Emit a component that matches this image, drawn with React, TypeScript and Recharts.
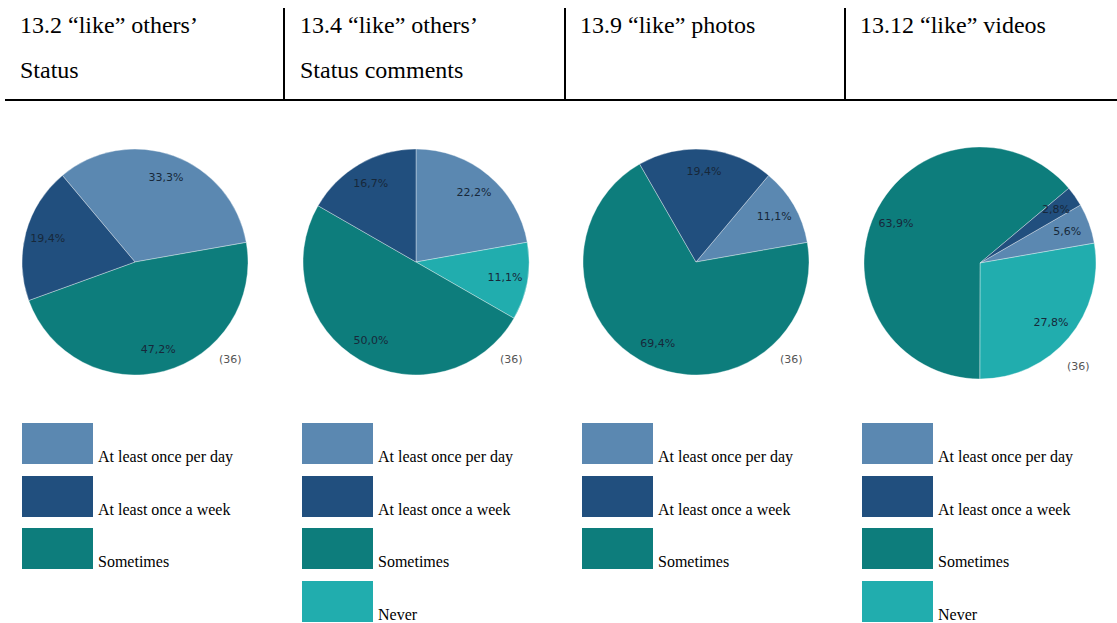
import { PieChart, Pie, Cell } from 'recharts'

// categories in legend order
const CATEGORIES = ['At least once per day', 'At least once a week', 'Sometimes', 'Never']
const COLORS = ['#5b88b1', '#214f7e', '#0d7d7c', '#21adae']

const TITLES = [
  ['13.2 \u201clike\u201d others\u2019', 'Status'],
  ['13.4 \u201clike\u201d others\u2019', 'Status comments'],
  ['13.9 \u201clike\u201d photos', ''],
  ['13.12 \u201clike\u201d videos', ''],
]

// percent per question
const PER_DAY = [33.3, 22.2, 11.1, 5.6]
const PER_WEEK = [19.4, 16.7, 19.4, 2.8]
const SOMETIMES = [47.2, 50.0, 69.4, 63.9]
const NEVER = [0, 11.1, 0, 27.8]
const RESPONDENTS = [36, 36, 36, 36]

const PIE_CX = [135, 416, 696, 980]
const PIE_CY = [262, 262, 262, 263]
const PIE_R = [113, 113, 113, 116]
const START_ANGLE = [130, 90, 50, 30]
const COL_X = [22, 302, 582, 862]

const RADIAN = Math.PI / 180

// slices go clockwise: per day, never, sometimes, week
function sliceData(i: number) {
  return [
    { name: CATEGORIES[0], value: PER_DAY[i], color: COLORS[0] },
    { name: CATEGORIES[3], value: NEVER[i], color: COLORS[3] },
    { name: CATEGORIES[2], value: SOMETIMES[i], color: COLORS[2] },
    { name: CATEGORIES[1], value: PER_WEEK[i], color: COLORS[1] },
  ].filter(d => d.value > 0)
}

const renderLabel = (props: any) => {
  const { cx, cy, midAngle, outerRadius, value } = props
  const r = outerRadius * 0.8
  const x = cx + r * Math.cos(-midAngle * RADIAN)
  const y = cy + r * Math.sin(-midAngle * RADIAN)
  return (
    <text
      x={x}
      y={y}
      textAnchor="middle"
      dominantBaseline="central"
      fill="#17283a"
      fontSize={11}
      fontFamily="DejaVu Sans, Verdana, sans-serif"
    >
      {value.toFixed(1).replace('.', ',')}%
    </text>
  )
}

const serif = "'Liberation Serif', 'Times New Roman', serif"

export default function App() {
  return (
    <div style={{ position: 'absolute', left: 0, top: 0, width: 1117, height: 623, background: '#fff', color: '#000' }}>
      {/* header table */}
      {TITLES.map((t, i) => (
        <div key={i} style={{ position: 'absolute', left: COL_X[i] - 2, top: 3, fontSize: 24, lineHeight: '45px', fontFamily: serif }}>
          <div>{t[0]}</div>
          <div>{t[1]}</div>
        </div>
      ))}
      {[284, 565, 845].map(x => (
        <div key={x} style={{ position: 'absolute', left: x - 1, top: 8, width: 2, height: 93, background: '#000' }} />
      ))}
      <div style={{ position: 'absolute', left: 5, top: 99, width: 1112, height: 2, background: '#000' }} />

      <div style={{ position: 'absolute', left: 0, top: 0 }}>
        <PieChart width={1117} height={400} margin={{ top: 0, right: 0, bottom: 0, left: 0 }}>
          {TITLES.map((_, i) => {
            const data = sliceData(i)
            return (
              <Pie
                key={i}
                data={data}
                dataKey="value"
                cx={PIE_CX[i]}
                cy={PIE_CY[i]}
                outerRadius={PIE_R[i]}
                startAngle={START_ANGLE[i]}
                endAngle={START_ANGLE[i] - 360}
                stroke="rgba(255,255,255,0.35)"
                strokeWidth={1}
                label={renderLabel}
                labelLine={false}
                isAnimationActive={false}
              >
                {data.map((d, j) => (
                  <Cell key={j} fill={d.color} />
                ))}
              </Pie>
            )
          })}
        </PieChart>
      </div>

      {RESPONDENTS.map((n, i) => (
        <span
          key={i}
          style={{
            position: 'absolute',
            left: PIE_CX[i] + 84 + (i === 3 ? 3 : 0),
            top: PIE_CY[i] + 91 + (i === 3 ? 6 : 0),
            fontSize: 11,
            fontFamily: 'DejaVu Sans, Verdana, sans-serif',
            color: '#555',
          }}
        >
          ({n})
        </span>
      ))}

      {/* legends */}
      {TITLES.map((_, i) => {
        const values = [PER_DAY[i], PER_WEEK[i], SOMETIMES[i], NEVER[i]]
        return CATEGORIES.map((c, k) =>
          values[k] > 0 ? (
            <div key={`${i}-${k}`} style={{ position: 'absolute', left: COL_X[i], top: 423 + k * 52.5, height: 41, display: 'flex', alignItems: 'flex-end', fontFamily: serif }}>
              <div style={{ width: 71, height: 41, background: COLORS[k] }} />
              <span style={{ marginLeft: 5, fontSize: 16, lineHeight: '16px', position: 'relative', top: 1 }}>{c}</span>
            </div>
          ) : null
        )
      })}
    </div>
  )
}
